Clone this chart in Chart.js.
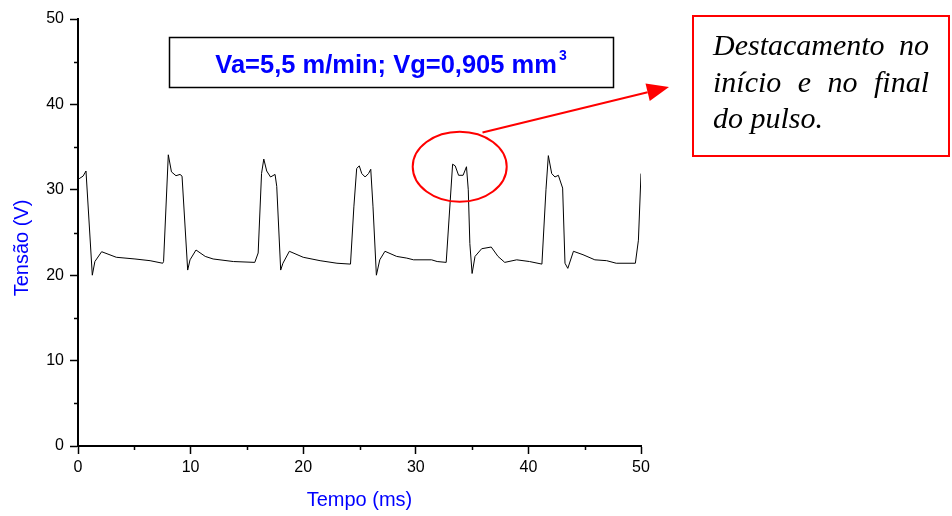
<!DOCTYPE html>
<html><head><meta charset="utf-8">
<script src="https://cdn.jsdelivr.net/npm/chart.js@4/dist/chart.umd.min.js"></script>
<style>html,body{margin:0;padding:0;background:#fff;}canvas{display:block;}</style>
</head><body>
<canvas id="c" width="952" height="516"></canvas>
<script>
// ---- data ----
const timeMs = [0.1,0.45,0.71,1.27,1.5,2.1,3.4,5.06,6.4,7.52,7.6,8.02,8.3,8.7,9.06,9.24,9.74,9.95,10.48,11.3,12.0,13.8,15.7,16.0,16.3,16.5,16.76,17.1,17.5,17.65,18.0,18.2,18.77,20.0,21.5,23.0,24.2,24.5,24.75,24.98,25.2,25.5,25.8,26.0,26.2,26.5,26.8,27.26,28.3,29.2,29.8,31.4,31.9,32.7,33.27,33.5,33.8,34.2,34.5,34.66,34.8,35.0,35.26,35.85,36.7,37.3,37.9,38.96,40.1,41.2,41.56,41.77,42.07,42.36,42.66,43.04,43.25,43.5,44.0,44.85,45.9,46.95,47.8,49.5,49.77,50.0];
const voltage = [31.3,31.6,32.2,20.0,21.6,22.75,22.1,21.9,21.7,21.4,21.6,34.1,32.1,31.65,31.8,31.6,20.6,21.8,22.95,22.2,21.9,21.6,21.5,22.6,31.9,33.6,32.2,31.5,31.8,30.4,20.6,21.4,22.8,22.1,21.7,21.4,21.3,28.0,32.5,32.8,31.9,31.5,31.9,32.4,28.0,20.0,21.8,22.8,22.2,22.0,21.8,21.8,21.6,21.5,33.0,32.8,31.7,31.7,32.7,30.0,23.7,20.2,22.2,23.1,23.3,22.2,21.5,21.8,21.6,21.3,30.0,34.0,31.9,31.5,31.7,30.2,21.4,20.8,22.8,22.4,21.8,21.7,21.4,21.4,24.1,31.9];
const minorX = [5,15,25,35,45];
const minorY = [5,15,25,35,45];
const xTitle = 'Tempo (ms)';
const yTitle = 'Tensão (V)';
const boxTitle = 'Va=5,5 m/min; Vg=0,905 mm';
const boxSup = '3';
const noteLines = ['Destacamento no', 'início e no final', 'do pulso.'];
const circled = {t: 33.9, v: 32.7};

const points = timeMs.map((t, i) => ({x: t, y: voltage[i]}));
const BLUE = '#0000ff';
const SANS = '"Liberation Sans", Arial, sans-serif';
const SERIF = '"Liberation Serif", "Times New Roman", serif';

const annot = {
  id: 'annot',
  afterDraw(chart) {
    const ctx = chart.ctx;
    const xs = chart.scales.x, ys = chart.scales.y;
    ctx.save();
    // minor ticks
    ctx.strokeStyle = '#000'; ctx.lineWidth = 1.5;
    minorX.forEach(v => { const p = Math.round(xs.getPixelForValue(v)) + 0.5;
      ctx.beginPath(); ctx.moveTo(p, ys.bottom); ctx.lineTo(p, ys.bottom + 4); ctx.stroke(); });
    minorY.forEach(v => { const p = Math.round(ys.getPixelForValue(v)) + 0.5;
      ctx.beginPath(); ctx.moveTo(xs.left, p); ctx.lineTo(xs.left - 4, p); ctx.stroke(); });
    // y title
    ctx.save();
    ctx.translate(22, 248); ctx.rotate(-Math.PI / 2);
    ctx.fillStyle = BLUE; ctx.font = '20px ' + SANS;
    ctx.textAlign = 'center'; ctx.textBaseline = 'middle';
    ctx.fillText(yTitle, 0, 0);
    ctx.restore();
    // title box
    ctx.strokeStyle = '#000'; ctx.lineWidth = 1.5;
    ctx.strokeRect(169.5, 37.5, 444, 50);
    ctx.fillStyle = BLUE; ctx.textBaseline = 'alphabetic'; ctx.textAlign = 'left';
    ctx.font = 'bold 25.5px ' + SANS;
    const w1 = ctx.measureText(boxTitle).width;
    ctx.font = 'bold 14px ' + SANS;
    const w2 = ctx.measureText(boxSup).width;
    const sx = 391 - (w1 + w2 + 2) / 2;
    ctx.font = 'bold 25.5px ' + SANS;
    ctx.fillText(boxTitle, sx, 73);
    ctx.font = 'bold 14px ' + SANS;
    ctx.fillText(boxSup, sx + w1 + 2, 60);
    // ellipse around a pulse
    const cx = xs.getPixelForValue(circled.t), cy = ys.getPixelForValue(circled.v);
    ctx.strokeStyle = '#ff0000'; ctx.lineWidth = 2;
    ctx.beginPath(); ctx.ellipse(cx, cy, 47, 35, 0, 0, Math.PI * 2); ctx.stroke();
    // arrow
    const ax0 = 482.5, ay0 = 132.5, ax1 = 669, ay1 = 87;
    const ang = Math.atan2(ay1 - ay0, ax1 - ax0);
    const hl = 22, hw = 9;
    const bx = ax1 - hl * Math.cos(ang), by = ay1 - hl * Math.sin(ang);
    ctx.beginPath(); ctx.moveTo(ax0, ay0); ctx.lineTo(bx, by); ctx.stroke();
    ctx.fillStyle = '#ff0000';
    ctx.beginPath(); ctx.moveTo(ax1, ay1);
    ctx.lineTo(bx + hw * Math.sin(ang), by - hw * Math.cos(ang));
    ctx.lineTo(bx - hw * Math.sin(ang), by + hw * Math.cos(ang));
    ctx.closePath(); ctx.fill();
    // note box
    ctx.strokeStyle = '#ff0000'; ctx.lineWidth = 2;
    ctx.strokeRect(693, 16, 256, 140);
    ctx.fillStyle = '#000'; ctx.font = 'italic 30px ' + SERIF;
    const L = 713, R = 929, base = [55, 91.5, 128];
    noteLines.forEach((line, i) => {
      if (i === noteLines.length - 1) { ctx.fillText(line, L, base[i]); return; }
      const words = line.split(' ');
      const ws = words.map(w => ctx.measureText(w).width);
      const gap = (R - L - ws.reduce((a, b) => a + b, 0)) / (words.length - 1);
      let x = L;
      words.forEach((w, j) => { ctx.fillText(w, x, base[i]); x += ws[j] + gap; });
    });
    ctx.restore();
  }
};

new Chart(document.getElementById('c'), {
  type: 'line',
  data: { datasets: [{ data: points, borderColor: '#000', borderWidth: 1, pointRadius: 0, tension: 0, fill: false }] },
  options: {
    responsive: false, animation: false, devicePixelRatio: 1,
    layout: { padding: { left: 0, top: 19, right: 311, bottom: 0 } },
    plugins: { legend: { display: false }, tooltip: { enabled: false } },
    scales: {
      x: {
        type: 'linear', min: 0, max: 50,
        ticks: { stepSize: 10, color: '#000', font: { family: SANS, size: 16 }, padding: 4, maxRotation: 0 },
        grid: { drawOnChartArea: false, drawTicks: true, tickLength: 8, color: '#000', tickWidth: 1.5 },
        border: { display: true, color: '#000', width: 2 },
        title: { display: true, text: xTitle, color: BLUE, font: { family: SANS, size: 20 }, padding: { top: 0, bottom: 4 } },
        afterFit(s) { s.height = 70; }
      },
      y: {
        min: 0, max: 50,
        ticks: { stepSize: 10, color: '#000', font: { family: SANS, size: 16 }, padding: 6 },
        grid: { drawOnChartArea: false, drawTicks: true, tickLength: 8, color: '#000', tickWidth: 1.5 },
        border: { display: true, color: '#000', width: 2 },
        afterFit(s) { s.width = 78; }
      }
    }
  },
  plugins: [annot]
});
</script>
</body></html>
